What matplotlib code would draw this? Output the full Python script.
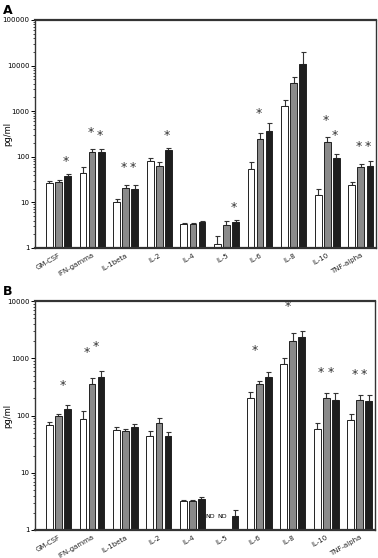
import numpy as np
import matplotlib
matplotlib.use('Agg')
import matplotlib.pyplot as plt
from matplotlib.ticker import LogLocator, NullFormatter, FixedLocator, FixedFormatter

cytokines = ['GM-CSF', 'IFN-gamma', 'IL-1beta', 'IL-2', 'IL-4', 'IL-5', 'IL-6', 'IL-8', 'IL-10', 'TNF-alpha']

# panel A: mean and upper error bar end (pg/ml), white / gray / black groups
a_white = [27, 43, 10, 80, 3.3, 1.2, 54, 1300, 14.5, 24]
a_white_err = [30, 60, 12, 93, 3.6, 1.8, 76, 1750, 20, 28]
a_gray = [28, 130, 21, 62, 3.4, 3.2, 245, 4200, 210, 60]
a_gray_err = [31, 148, 24, 75, 3.6, 3.9, 335, 5600, 270, 70]
a_black = [38, 128, 20, 140, 3.7, 3.7, 370, 10900, 94, 63]
a_black_err = [41, 145, 24, 155, 3.9, 4.2, 550, 20000, 115, 80]
# stars: (category, bar 0/1/2, y)
a_stars = [(0, 2, 77), (1, 1, 335), (1, 2, 300), (2, 1, 57), (2, 2, 57),
           (3, 2, 300), (5, 2, 7.9), (6, 1, 870), (8, 1, 640), (8, 2, 300),
           (9, 1, 170), (9, 2, 170)]

# panel B (None = not detected)
b_white = [68, 88, 56, 44, 3.2, None, 200, 790, 58, 84]
b_white_err = [78, 120, 63, 54, 3.35, None, 260, 1000, 73, 105]
b_gray = [99, 357, 54, 74, 3.2, None, 350, 2040, 203, 190]
b_gray_err = [108, 450, 58, 92, 3.35, None, 410, 2750, 245, 225]
b_black = [131, 470, 62, 44, 3.5, 1.75, 470, 2400, 186, 182]
b_black_err = [153, 600, 70, 52, 3.7, 2.2, 570, 3050, 245, 225]
b_stars = [(0, 2, 340), (1, 1, 1250), (1, 2, 1600), (6, 1, 1400), (7, 1, 8200),
           (8, 1, 570), (8, 2, 570), (9, 1, 530), (9, 2, 530)]

colors = ['white', '#8a8a8a', '#1e1e1e']
offsets = [-0.27, 0.0, 0.27]
width = 0.2

fig = plt.figure(figsize=(3.78, 5.58), dpi=100)
axA = fig.add_axes([0.0926, 0.5556, 0.902, 0.4086])
axB = fig.add_axes([0.0926, 0.0502, 0.899, 0.41])


def draw(ax, series, errs, stars, ymax, star_shift):
    x = np.arange(len(cytokines))
    for k in range(3):
        vals = series[k]
        ev = errs[k]
        for i in range(len(x)):
            if vals[i] is None:
                continue
            ax.bar(x[i] + offsets[k], vals[i] - 1, width, bottom=1, color=colors[k],
                   edgecolor='#222222', linewidth=0.7, zorder=2)
            ax.errorbar(x[i] + offsets[k], vals[i], yerr=[[0], [ev[i] - vals[i]]],
                        fmt='none', ecolor='#333333', elinewidth=0.8,
                        capsize=1.8, capthick=0.8, zorder=1)
    for c, b, y in stars:
        ax.text(c + offsets[b] + star_shift, y, '*', ha='center', va='center',
                fontsize=9, color='#333333')
    ax.set_yscale('log')
    ax.set_ylim(1, ymax)
    ax.set_xlim(-0.7, 9.45)
    decades = [10 ** i for i in range(int(np.log10(ymax)) + 1)]
    ax.yaxis.set_major_locator(FixedLocator(decades))
    ax.yaxis.set_major_formatter(FixedFormatter([str(d) for d in decades]))
    ax.yaxis.set_minor_locator(LogLocator(base=10, subs=np.arange(2, 10)))
    ax.yaxis.set_minor_formatter(NullFormatter())
    ax.tick_params(axis='y', which='major', labelsize=5, length=3, width=0.7, pad=1)
    ax.tick_params(axis='y', which='minor', length=1.5, width=0.5)
    ax.set_xticks(x)
    ax.set_xticklabels(cytokines, rotation=30, ha='right', rotation_mode='anchor',
                       fontsize=5, color='#222222')
    ax.tick_params(axis='x', length=0, pad=3)
    ax.set_ylabel('pg/ml', fontsize=6)
    ax.yaxis.set_label_coords(-0.068, 0.5)
    for side in ['top', 'bottom']:
        ax.spines[side].set_linewidth(1.6)
        ax.spines[side].set_color('#333333')
    for side in ['left', 'right']:
        ax.spines[side].set_linewidth(1.0)
        ax.spines[side].set_color('#333333')


draw(axA, [a_white, a_gray, a_black], [a_white_err, a_gray_err, a_black_err],
     a_stars, 100000, -0.05)
draw(axB, [b_white, b_gray, b_black], [b_white_err, b_gray_err, b_black_err],
     b_stars, 10000, -0.15)

axB.text(5 - 0.46, 1.75, 'ND', ha='center', va='center', fontsize=4.5)
axB.text(5 - 0.10, 1.75, 'ND', ha='center', va='center', fontsize=4.5)

fig.text(0.008, 0.992, 'A', fontsize=9, fontweight='bold', va='top', ha='left')
fig.text(0.008, 0.49, 'B', fontsize=9, fontweight='bold', va='top', ha='left')

fig.savefig('out.png', dpi=100)
